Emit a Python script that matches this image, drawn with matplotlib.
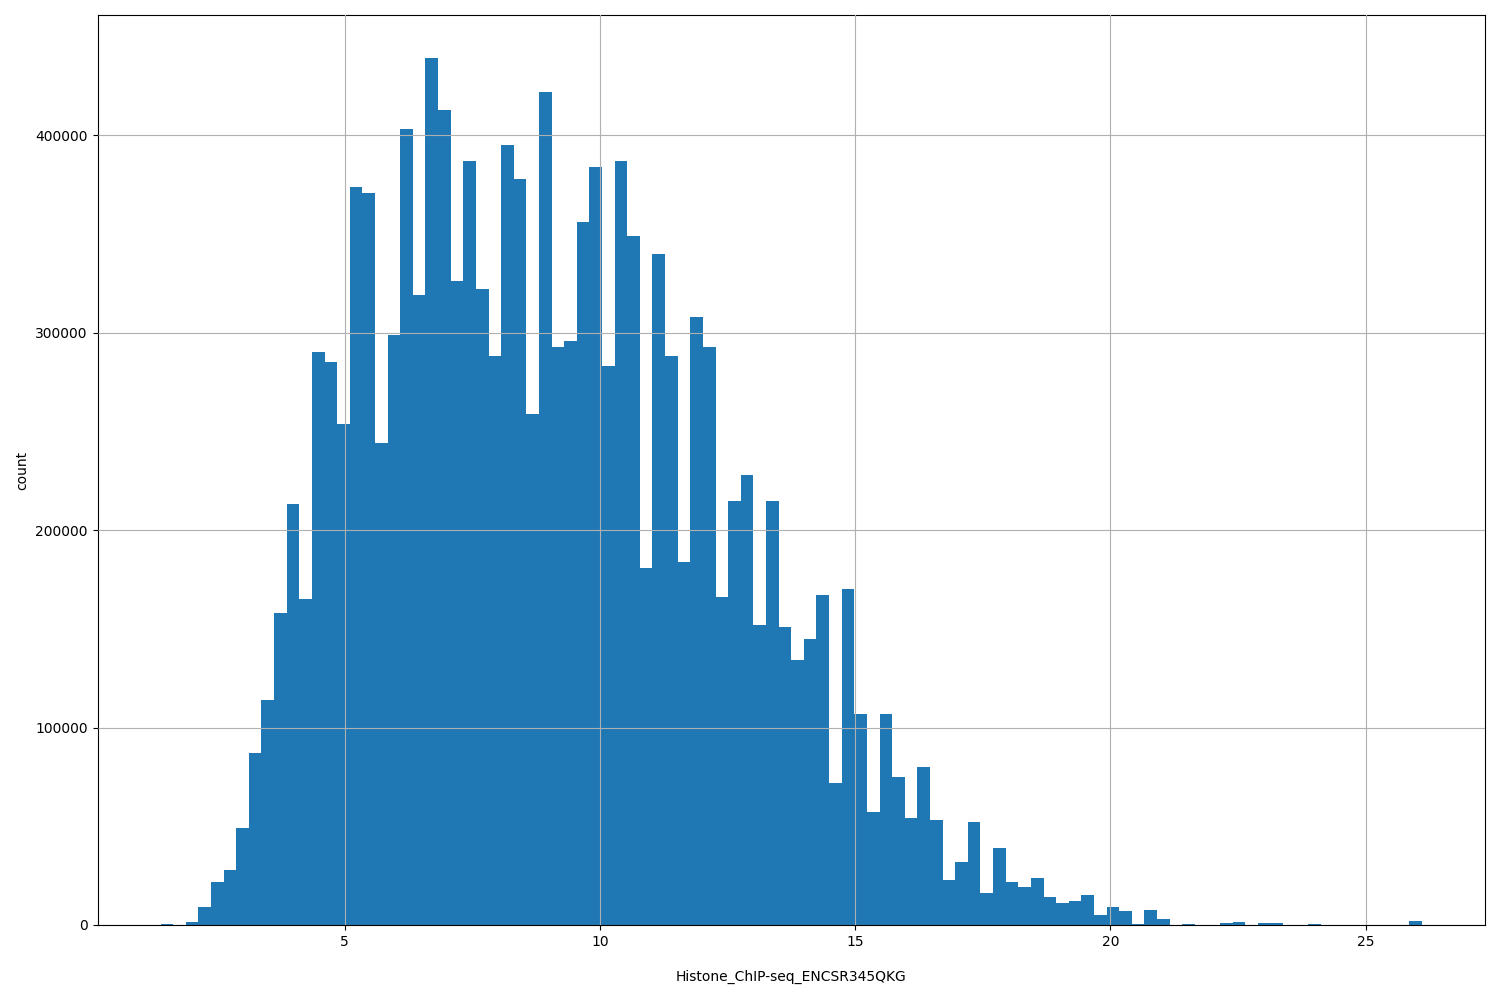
import numpy as np
import matplotlib
matplotlib.use("Agg")
import matplotlib.pyplot as plt

x_min, x_max, n_bins = 1.395, 26.1, 100
counts = [500, 200, 1500, 9000, 22000, 28000, 49000, 87000, 114000, 158000,
          213000, 165000, 290000, 285000, 254000, 374000, 371000, 244000, 299000, 403000,
          319000, 439000, 413000, 326000, 387000, 322000, 288000, 395000, 378000, 259000,
          422000, 293000, 296000, 356000, 384000, 283000, 387000, 349000, 181000, 340000,
          288000, 184000, 308000, 293000, 166000, 215000, 228000, 152000, 215000, 151000,
          134000, 145000, 167000, 72000, 170000, 107000, 57000, 107000, 75000, 54000,
          80000, 53000, 23000, 32000, 52000, 16000, 39000, 22000, 19000, 24000,
          14000, 11000, 12000, 15000, 5000, 9000, 7000, 500, 7500, 3000,
          0, 500, 0, 0, 1000, 1500, 0, 800, 800, 0,
          0, 500, 0, 0, 0, 0, 0, 0, 0, 2000]

edges = np.linspace(x_min, x_max, n_bins + 1)
centers = (edges[:-1] + edges[1:]) / 2

fig = plt.figure(figsize=(15, 10), dpi=100)
ax = fig.add_axes([0.065, 0.075, 0.925, 0.91])
ax.hist(centers, bins=edges, weights=counts, color="#1f77b4")
ax.grid(True)
ax.set_axisbelow(False)
ax.set_xlabel("Histone_ChIP-seq_ENCSR345QKG", labelpad=15)
ax.set_ylabel("count", labelpad=4)
fig.savefig("out.png", dpi=100)
